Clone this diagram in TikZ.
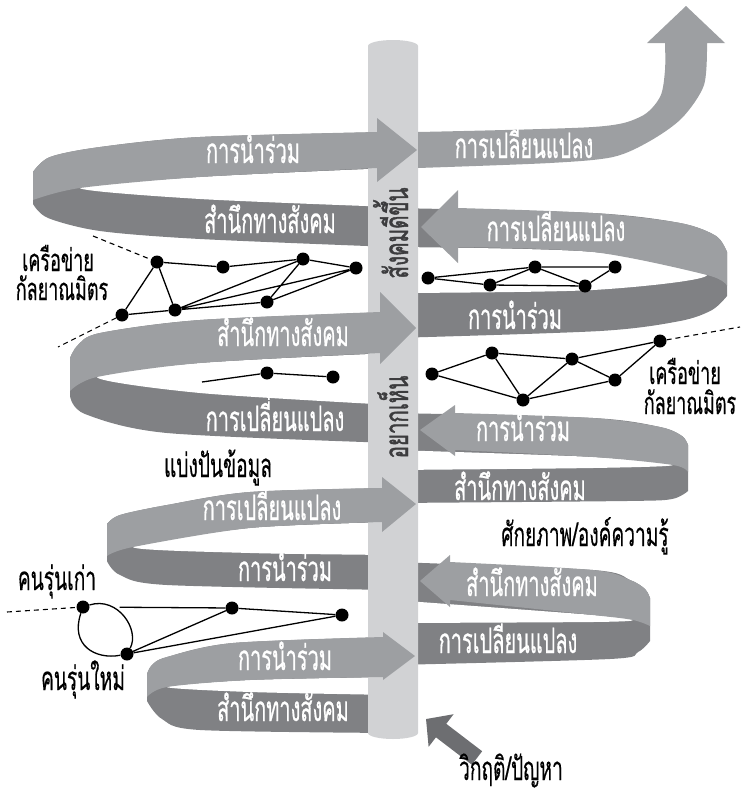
\documentclass[tikz,border=0pt]{standalone}
\usepackage{fontspec}
\usepackage{tikz}
\usetikzlibrary{arrows.meta}
\newfontfamily\bandfont[Script=Thai,FakeStretch=0.57,FakeBold=0.5]{Loma}
\newfontfamily\notefont[Script=Thai,FakeStretch=0.58,FakeBold=0.35]{Loma}
\newfontfamily\polefont[Script=Thai,FakeStretch=0.62,FakeBold=1.2]{Loma}
\definecolor{bandlight}{HTML}{9D9FA2}
\definecolor{banddark}{HTML}{808184}
\definecolor{polegray}{HTML}{D1D2D4}
\definecolor{crisisgray}{HTML}{6D6E71}
\definecolor{poletext}{HTML}{3C3C3E}

\begin{document}
\begin{tikzpicture}[x=1pt,y=-1pt,
    light/.style={fill=bandlight},
    dark/.style={fill=banddark},
    lens/.style={fill=white},
    bandtext/.style={text=white,font=\bandfont\fontsize{35}{37}\selectfont,anchor=base},
    note/.style={font=\notefont\fontsize{33}{35}\selectfont,anchor=base},
    smallnote/.style={font=\notefont\fontsize{31}{33}\selectfont,anchor=base},
    poleword/.style={font=\polefont\fontsize{33}{35}\selectfont,text=poletext,rotate=90,anchor=base},
    dot/.style={circle,fill=black,inner sep=0pt,minimum size=13pt},
    link/.style={line width=1.3pt},
    trail/.style={line width=1.1pt,dash pattern=on 5pt off 4pt}]
\useasboundingbox (0,0) rectangle (747,795);

% back faces of the ribbon
\fill[dark] plot[smooth] coordinates {(393,132) (200,137) (100,147) (50,157) (33,172)} -- (33,204)
    -- plot[smooth] coordinates {(33,204) (48,218) (100,231) (200,239) (393,247)} -- cycle;
\fill[lens] plot[smooth] coordinates {(393,168) (200,177) (80,188) (200,199) (393,207)} -- cycle;
\fill[dark] plot[smooth] coordinates {(393,312) (200,320) (100,333) (78,345) (70,358)} -- (70,396)
    -- plot[smooth] coordinates {(70,396) (85,414) (167,433) (393,443)} -- cycle;
\fill[lens] plot[smooth] coordinates {(393,353) (200,363) (97,377) (200,393) (393,405)} -- cycle;
\fill[dark] plot[smooth] coordinates {(393,488) (250,492) (167,505) (120,515) (107,524)} -- (107,561)
    -- plot[smooth] coordinates {(107,561) (120,575) (167,585) (393,590)} -- cycle;
\fill[lens] plot[smooth] coordinates {(393,522) (250,528) (133,547) (250,553) (393,555)} -- cycle;
\fill[dark] plot[smooth] coordinates {(393,637) (233,643) (167,657) (152,665) (147,674)} -- (147,701)
    -- plot[smooth] coordinates {(147,701) (162,719) (200,730) (393,733)} -- cycle;
\fill[lens] plot[smooth] coordinates {(393,677) (250,680) (167,687) (250,692) (393,695)} -- cycle;

\fill[dark] plot[smooth] coordinates {(393,208) (593,213) (680,223) (716,236) (727,252)} -- (727,296)
    -- plot[smooth] coordinates {(727,296) (712,310) (680,321) (600,331) (393,338)} -- cycle;
\fill[lens] plot[smooth] coordinates {(393,247) (593,252) (707,275) (593,290) (393,293)} -- cycle;
\fill[dark] plot[smooth] coordinates {(393,413) (593,418) (660,427) (682,436) (688,445)} -- (688,491)
    -- plot[smooth] coordinates {(688,491) (672,499) (627,501) (393,503)} -- cycle;
\fill[lens] plot[smooth] coordinates {(393,450) (593,457) (673,465) (593,468) (393,470)} -- cycle;
\fill[dark] plot[smooth] coordinates {(393,562) (593,570) (630,580) (645,589) (650,598)} -- (650,641)
    -- plot[smooth] coordinates {(650,641) (638,652) (610,659) (393,665)} -- cycle;
\fill[lens] plot[smooth] coordinates {(393,600) (593,615) (633,620) (593,622) (393,623)} -- cycle;

% pole
\fill[polegray] (368,733) -- (368,46) arc[start angle=180,end angle=360,x radius=25,y radius=6]
    -- (418,733) arc[start angle=0,end angle=180,x radius=25,y radius=6] -- cycle;
\node[poleword] (poletop) at (408,233) {สังคมดีขึ้น};
\node[poleword] (polelow) at (408,417) {อยากเห็น};

% front faces with arrows
\fill[light] (377,132) -- (377,118) -- (417,150) -- (377,182) -- (377,168)
    -- plot[smooth] coordinates {(377,168) (200,177) (80,188) (33,200)} -- (33,172)
    -- plot[smooth] coordinates {(33,172) (50,157) (100,147) (200,137) (377,132)} -- cycle;
\fill[light] (380,312) -- (380,292) -- (416,328) -- (380,364) -- (380,353)
    -- plot[smooth] coordinates {(380,353) (200,363) (97,377) (70,391)} -- (70,358)
    -- plot[smooth] coordinates {(70,358) (78,345) (100,333) (200,320) (380,312)} -- cycle;
\fill[light] (382,488) -- (382,477) -- (416,504) -- (382,532) -- (382,522)
    -- plot[smooth] coordinates {(382,522) (250,528) (133,547) (107,556)} -- (107,524)
    -- plot[smooth] coordinates {(107,524) (120,515) (167,505) (250,492) (382,488)} -- cycle;
\fill[light] (383,637) -- (383,632) -- (415,656) -- (383,680) -- (383,677)
    -- plot[smooth] coordinates {(383,677) (250,680) (167,687) (147,697)} -- (147,674)
    -- plot[smooth] coordinates {(147,674) (152,665) (167,657) (233,643) (383,637)} -- cycle;

\fill[light] (458,208) -- (458,190) -- (421,227) -- (458,263) -- (458,247)
    -- plot[smooth] coordinates {(458,247) (593,252) (707,275) (727,286)} -- (727,252)
    -- plot[smooth] coordinates {(727,252) (716,236) (680,223) (593,213) (458,208)} -- cycle;
\fill[light] (455,413) -- (455,405) -- (420,430) -- (455,456) -- (455,450)
    -- plot[smooth] coordinates {(455,450) (593,457) (673,465) (688,472)} -- (688,445)
    -- plot[smooth] coordinates {(688,445) (682,436) (660,427) (593,418) (455,413)} -- cycle;
\fill[light] (450,562) -- (450,555) -- (420,581) -- (450,607) -- (450,600)
    -- plot[smooth] coordinates {(450,600) (593,615) (633,620) (650,626)} -- (650,598)
    -- plot[smooth] coordinates {(650,598) (645,589) (630,580) (593,570) (450,562)} -- cycle;

\fill[light] plot[smooth] coordinates {(418,132) (593,127) (640,117) (660,97) (665,70) (665,43)}
    -- (647,43) -- (686,6) -- (725,43) -- (707,43)
    -- plot[smooth] coordinates {(707,43) (704,85) (682,118) (650,141) (613,157) (550,163) (418,168)} -- cycle;

% crisis arrow
\coordinate (crisistail) at (477,758);
\coordinate (crisistip) at (426,719);
\draw[crisisgray,line width=17pt,-{Triangle[length=19pt,width=40pt]}] (crisistail) -- (crisistip);

% texts on the ribbon
\node[bandtext] (leadA) at (253,163) {การนำร่วม};
\node[bandtext] (changeA) at (524,158) {การเปลี่ยนแปลง};
\node[bandtext] (awareA) at (270,233) {สำนึกทางสังคม};
\node[bandtext] (changeB) at (556,241) {การเปลี่ยนแปลง};
\node[bandtext] (leadB) at (515,329) {การนำร่วม};
\node[bandtext] (awareC) at (283,346) {สำนึกทางสังคม};
\node[bandtext] (changeC) at (275,431) {การเปลี่ยนแปลง};
\node[bandtext] (leadC) at (523,441) {การนำร่วม};
\node[bandtext] (awareD) at (520,500) {สำนึกทางสังคม};
\node[bandtext] (changeD) at (272,520) {การเปลี่ยนแปลง};
\node[bandtext] (leadD) at (285,581) {การนำร่วม};
\node[bandtext] (awareE) at (532,596) {สำนึกทางสังคม};
\node[bandtext] (changeE) at (508,653) {การเปลี่ยนแปลง};
\node[bandtext] (leadE) at (285,670) {การนำร่วม};
\node[bandtext] (awareF) at (283,721) {สำนึกทางสังคม};

% labels
\node[smallnote] (netleft1) at (58,271) {เครือข่าย};
\node[smallnote] (netleft2) at (62,300) {กัลยาณมิตร};
\node[smallnote] (netright1) at (685,384) {เครือข่าย};
\node[smallnote] (netright2) at (690,414) {กัลยาณมิตร};
\node[note] (share) at (218,477) {แบ่งปันข้อมูล};
\node[note] (skill) at (585,546) {ศักยภาพ/องค์ความรู้};
\node[note] (oldgen) at (57,590) {คนรุ่นเก่า};
\node[note] (newgen) at (83,690) {คนรุ่นใหม่};
\node[note] (crisis) at (511,780) {วิกฤติ/ปัญหา};

% network upper left
\node[dot] (n1) at (157,262) {};
\node[dot] (n2) at (223,267) {};
\node[dot] (n3) at (303,259) {};
\node[dot] (n4) at (356,268) {};
\node[dot] (n5) at (122,315) {};
\node[dot] (n6) at (175,310) {};
\node[dot] (n7) at (267,302) {};
\coordinate (n0) at (93,236);
\coordinate (n8) at (58,347);
\draw[link] (n1) -- (n2) (n2) -- (n3) (n3) -- (n4) (n1) -- (n5) (n1) -- (n6) (n5) -- (n6)
    (n6) -- (n3) (n6) -- (n4) (n6) -- (n7) (n7) -- (n3) (n7) -- (n4);
\draw[trail] (n0) -- (n1) (n5) -- (n8);

\coordinate (m0) at (202,382);
\node[dot] (m1) at (267,373) {};
\node[dot] (m2) at (333,377) {};
\draw[link] (m0) -- (m1) (m1) -- (m2);

% network upper right
\node[dot] (r1) at (428,278) {};
\node[dot] (r2) at (490,285) {};
\node[dot] (r3) at (535,267) {};
\node[dot] (r4) at (615,267) {};
\node[dot] (r5) at (585,286) {};
\draw[link] (r1) -- (r3) (r1) -- (r2) (r2) -- (r3) (r3) -- (r4) (r3) -- (r5) (r2) -- (r5) (r5) -- (r4);

% network right
\node[dot] (s1) at (432,374) {};
\node[dot] (s2) at (492,353) {};
\node[dot] (s3) at (523,400) {};
\node[dot] (s4) at (572,359) {};
\node[dot] (s5) at (615,380) {};
\node[dot] (s6) at (660,341) {};
\coordinate (s7) at (740,327);
\draw[link] (s1) -- (s2) (s1) -- (s3) (s2) -- (s3) (s2) -- (s4) (s3) -- (s4) (s3) -- (s5)
    (s4) -- (s5) (s4) -- (s6) (s5) -- (s6);
\draw[trail] (s6) -- (s7);

% network lower left
\node[dot] (g1) at (83,607) {};
\node[dot] (g2) at (127,654) {};
\node[dot] (g3) at (232,608) {};
\node[dot] (g4) at (342,615) {};
\coordinate (g0) at (7,612);
\draw[link,shorten <=30pt] (g1) -- (g3);
\draw[link] (g3) -- (g4) (g2) -- (g3) (g2) -- (g4);
\draw[link] (g1) .. controls (118,596) and (140,630) .. (g2);
\draw[link] (g1) .. controls (70,645) and (95,660) .. (g2);
\draw[trail] (g0) -- (g1);
\end{tikzpicture}
\end{document}
